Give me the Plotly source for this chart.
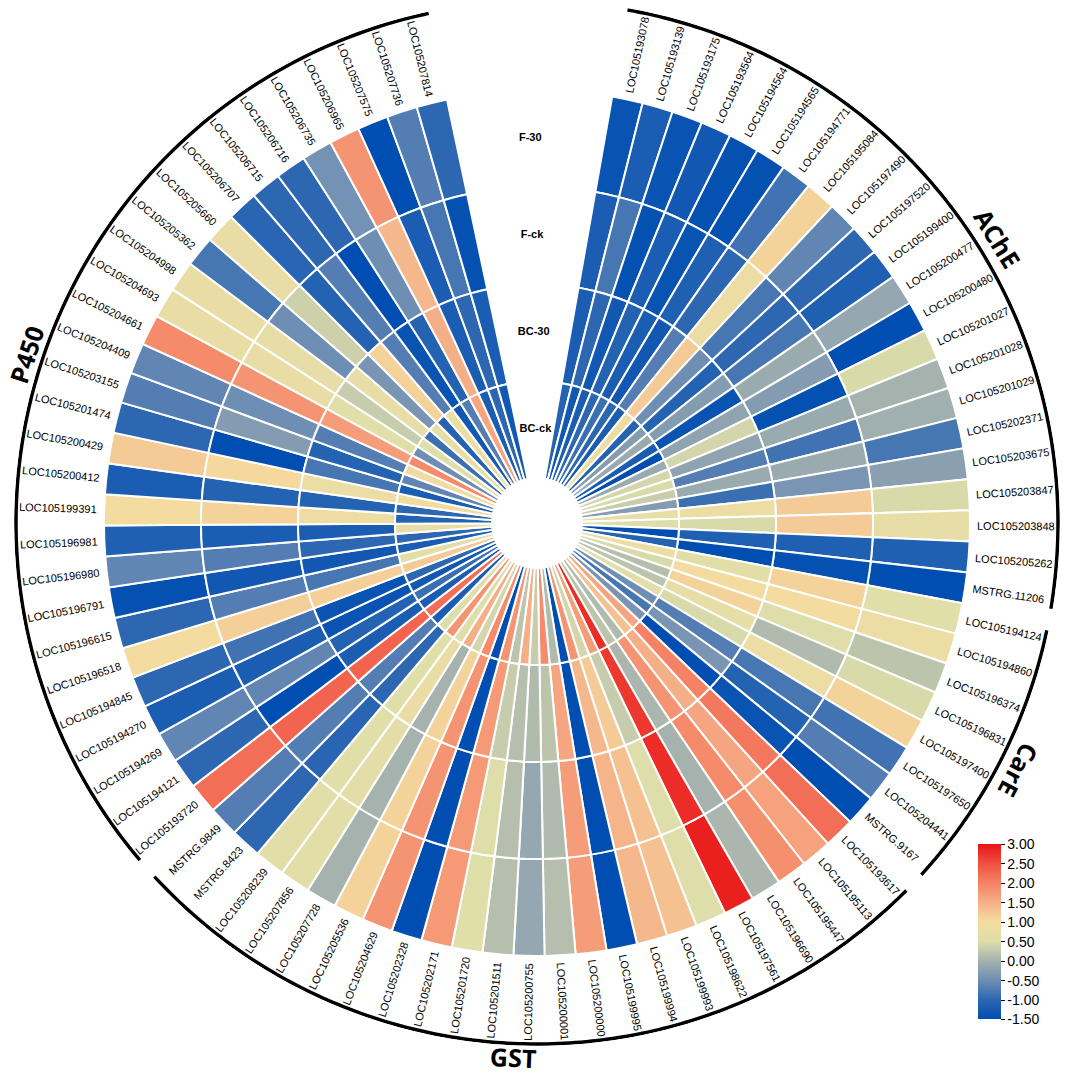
import numpy as np
import plotly.graph_objects as go

# genes, clockwise from the top gap
genes = ['LOC105193078', 'LOC105193139', 'LOC105193175', 'LOC105193564', 'LOC105194564',
         'LOC105194565', 'LOC105194771', 'LOC105195084', 'LOC105197490', 'LOC105197520',
         'LOC105199400', 'LOC105200477', 'LOC105200480', 'LOC105201027', 'LOC105201028',
         'LOC105201029', 'LOC105202371', 'LOC105203675', 'LOC105203847', 'LOC105203848',
         'LOC105205262', 'MSTRG.11206',
         'LOC105194124', 'LOC105194860', 'LOC105196374', 'LOC105196831', 'LOC105197400',
         'LOC105197650', 'LOC105204441', 'MSTRG.9167',
         'LOC105193617', 'LOC105195113', 'LOC105195447', 'LOC105196690', 'LOC105197561',
         'LOC105198622', 'LOC105199993', 'LOC105199994', 'LOC105199995', 'LOC105200000',
         'LOC105200001', 'LOC105200755', 'LOC105201511', 'LOC105201720', 'LOC105202171',
         'LOC105202328', 'LOC105204629', 'LOC105205536', 'LOC105207728', 'LOC105207856',
         'LOC105208239', 'MSTRG.8423', 'MSTRG.9849',
         'LOC105193720', 'LOC105194121', 'LOC105194269', 'LOC105194270', 'LOC105194845',
         'LOC105196518', 'LOC105196615', 'LOC105196791', 'LOC105196980', 'LOC105196981',
         'LOC105199391', 'LOC105200412', 'LOC105200429', 'LOC105201474', 'LOC105203155',
         'LOC105204409', 'LOC105204661', 'LOC105204693', 'LOC105204998', 'LOC105205362',
         'LOC105205660', 'LOC105206707', 'LOC105206715', 'LOC105206716', 'LOC105206735',
         'LOC105206965', 'LOC105207575', 'LOC105207736', 'LOC105207814']

group_names = ['AChE', 'CarE', 'GST', 'P450']
group_sizes = [22, 8, 23, 29]

ring_names = ['F-30', 'F-ck', 'BC-30', 'BC-ck']   # outer -> inner

f30 = [-1.4, -1.2, -1.4, -1.3, -1.45, -1.45, -0.85, 1.1, -0.6, -1.0,
       -1.15, -0.15, -1.5, 0.45, 0.0, -0.05, -0.8, -0.25, 0.45, 0.7,
       -1.15, -1.5,
       0.55, 0.8, 0.2, 0.45, 1.1, -0.85, -0.7, -1.5,
       2.2, 1.65, 1.85, 0.05, 2.9, 0.5, 1.3, 1.4, -1.5, 1.7,
       0.15, -0.15, 0.15, 0.55, 1.75, -1.5, 1.8, 1.1, 0.0, 0.6,
       0.6, -1.0, -0.7,
       2.2, -1.0, -0.6, -1.2, -1.0, 1.0, -1.0, -1.45, -0.6, -1.15,
       1.0, -1.2, 1.2, -1.0, -0.7, -0.6, 1.9, 0.75, 0.75, -0.8,
       0.75, -1.05, -1.0, -1.0, -0.45, 1.8, -1.5, -0.7, -1.0]

fck = [-1.2, -0.8, -1.45, -1.2, -1.4, -1.15, -1.0, 0.8, -0.8, -1.0,
       -0.8, -0.1, -0.3, -1.45, -0.1, -0.85, -0.1, -0.4, 1.2, 1.2,
       -1.15, -1.45,
       1.1, 1.0, 0.5, 0.1, 0.8, -0.8, -1.1, -1.4,
       2.1, 1.6, 1.9, 0.0, 2.8, 0.5, 1.3, 1.45, -1.5, 1.7,
       0.1, -0.15, 0.15, 0.5, 1.75, -1.5, 1.8, 1.1, 0.0, 0.65,
       0.55, -1.05, -0.7,
       2.3, -1.5, -0.6, -1.2, -0.85, 1.15, -0.7, -1.3, -0.7, -1.2,
       1.1, -1.1, 1.05, -1.5, -0.3, -0.5, 1.8, 0.75, 0.7, -0.5,
       0.35, -1.1, -0.7, -1.5, -0.5, 1.4, -1.2, -0.8, -1.45]

bc30 = [-1.2, -1.0, -1.3, -1.1, -1.2, -1.3, -0.7, 1.2, -0.5, -1.1,
        -0.3, -1.4, -0.2, 0.4, -0.2, -0.7, -0.1, -0.9, 0.8, 0.45,
        -1.15, -1.5,
        0.6, 1.0, 1.1, 0.7, 0.45, -0.7, -0.4, -1.5,
        2.0, 1.5, 1.8, 0.05, 2.7, 0.3, 1.2, 1.4, -1.5, 1.6,
        0.2, 0.1, 0.15, 0.3, 1.75, -1.5, 1.8, 1.1, 0.0, 0.75,
        0.55, -1.0, -0.7,
        2.3, -1.2, -1.1, -1.4, -1.4, 1.15, -0.8, -1.3, -1.0, -1.2,
        0.85, -1.1, 0.8, -0.8, -1.1, -0.7, 1.7, 0.6, 0.3, 0.7,
        -0.4, 1.1, -0.7, -1.4, -1.1, 1.5, -1.2, -1.0, -1.2]

bcck = [-1.1, -1.3, -1.2, -1.0, -0.9, -1.0, -1.2, 0.8, -1.1, -0.3,
        -0.1, -1.2, -1.5, -0.1, 0.4, 0.45, 0.3, -0.3, 0.7, 0.5,
        -1.5, -1.1,
        0.8, 0.45, 0.15, 0.2, 0.6, -0.5, -0.8, -0.4,
        1.6, 1.3, 0.1, 0.2, 2.8, 1.7, 0.4, 1.8, -1.5, 0.1,
        1.9, 0.3, 1.5, 0.2, 1.8, -1.5, 1.9, 0.4, 1.5, 0.5,
        1.8, 0.5, -1.2,
        2.2, -1.2, -0.9, -1.3, -1.0, 1.2, 0.6, -1.2, -1.0, 0.7,
        -1.1, -1.0, 0.9, -1.2, -0.6, 0.9, 1.9, -0.5, 0.5, -0.9,
        0.7, -1.1, 0.8, -1.3, -0.7, 1.6, -1.2, -1.0, -1.3]

ring_values = [f30, fck, bc30, bcck]

cbar_ticks = [-1.5, -1.0, -0.5, 0.0, 0.5, 1.0, 1.5, 2.0, 2.5, 3.0]

# page geometry (px)
W, H = 1065, 1078
CX, CY = 537, 523
R_MAX = 523
HOLE, RING_W = 45, 97

start_deg, end_deg = 10.0, 348.0
step = (end_deg - start_deg) / len(genes)
theta = [start_deg + step * (i + 0.5) for i in range(len(genes))]

colorscale = [
    [0.0, 'rgb(0,78,178)'],
    [0.111, 'rgb(45,103,178)'],
    [0.222, 'rgb(110,142,180)'],
    [0.333, 'rgb(165,178,174)'],
    [0.444, 'rgb(222,222,170)'],
    [0.556, 'rgb(244,220,160)'],
    [0.667, 'rgb(245,175,135)'],
    [0.778, 'rgb(245,130,100)'],
    [0.889, 'rgb(240,80,65)'],
    [1.0, 'rgb(232,20,22)'],
]

FONT = 'Liberation Sans, Arial, sans-serif'

fig = go.Figure()

for k, (name, vals) in enumerate(zip(ring_names, ring_values)):
    base = HOLE + RING_W * (3 - k)
    fig.add_trace(go.Barpolar(
        r=[RING_W] * len(genes), base=[base] * len(genes),
        theta=theta, width=[step] * len(genes),
        marker=dict(color=vals, colorscale=colorscale, cmin=-1.5, cmax=3.0,
                    line=dict(color='white', width=2),
                    showscale=(k == 0),
                    colorbar=dict(x=978 / W, xanchor='left', y=1 - 932 / H, yanchor='middle',
                                  len=175, lenmode='pixels', thickness=23,
                                  tickvals=cbar_ticks, ticktext=['%.2f' % v for v in cbar_ticks],
                                  ticks='outside', ticklen=4, tickcolor='black',
                                  outlinewidth=0, xpad=0, ypad=0,
                                  tickfont=dict(size=14, family=FONT, color='black'))),
        name=name, text=genes, hoverinfo='text+name', showlegend=False))

# ring names in the gap
fig.add_trace(go.Scatterpolar(
    r=[HOLE + RING_W * (3 - k) + RING_W / 2 for k in range(4)], theta=[359] * 4,
    mode='text', text=['<b>%s</b>' % n for n in ring_names],
    textfont=dict(size=11, family=FONT, color='black'), showlegend=False, hoverinfo='skip'))

# group arcs
ARC_R = 521
g0 = 0
for gname, gsize in zip(group_names, group_sizes):
    a0 = start_deg + step * g0
    a1 = start_deg + step * (g0 + gsize)
    pad0 = 0 if g0 == 0 else 1.2
    pad1 = 0 if g0 + gsize == len(genes) else 1.2
    th = np.linspace(a0 + pad0, a1 - pad1, 150)
    fig.add_trace(go.Scatterpolar(r=[ARC_R] * len(th), theta=th, mode='lines',
                                  line=dict(color='black', width=3.5),
                                  showlegend=False, hoverinfo='skip'))
    g0 += gsize


def to_paper(r, ang):
    a = np.radians(ang)
    return (CX + r * np.sin(a)) / W, 1 - (CY - r * np.cos(a)) / H


# rough Arial widths (em) to place labels just outside the ring
char_w = {'L': 0.556, 'O': 0.778, 'C': 0.722, 'M': 0.833, 'S': 0.667, 'T': 0.611,
          'R': 0.722, 'G': 0.778, '.': 0.278}

annotations = []
for g, ang in zip(genes, theta):
    tw = sum(char_w.get(c, 0.556) for c in g) * 11
    x, y = to_paper(440 + tw / 2, ang)
    rot = ang - 90 if ang < 180 else ang - 270
    annotations.append(dict(x=x, y=y, xref='paper', yref='paper', text=g, showarrow=False,
                            textangle=rot, xanchor='center', yanchor='middle',
                            font=dict(size=11, family=FONT, color='black')))

# group titles sit a little past the arcs; AChE is nudged down the arc as in the source
label_shift = {'AChE': 3.0, 'GST': 1.5}
label_r = {'GST': 535, 'P450': 538}
g0 = 0
for gname, gsize in zip(group_names, group_sizes):
    mid = start_deg + step * (g0 + gsize / 2) + label_shift.get(gname, 0)
    x, y = to_paper(label_r.get(gname, 542), mid)
    rot = mid - 180 if 150 < mid < 250 else (mid if mid <= 180 else mid - 360)
    annotations.append(dict(x=x, y=y, xref='paper', yref='paper', text='<b>%s</b>' % gname,
                            showarrow=False, textangle=rot, xanchor='center', yanchor='middle',
                            font=dict(size=25, family='Open Sans, ' + FONT, color='black')))
    g0 += gsize

fig.update_layout(
    width=W, height=H,
    margin=dict(l=0, r=0, t=0, b=0, autoexpand=False),
    paper_bgcolor='white', plot_bgcolor='white',
    polar=dict(
        domain=dict(x=[(CX - R_MAX) / W, (CX + R_MAX) / W],
                    y=[(H - CY - R_MAX) / H, (H - CY + R_MAX) / H]),
        bgcolor='white',
        radialaxis=dict(range=[0, R_MAX], visible=False),
        angularaxis=dict(rotation=90, direction='clockwise', visible=False),
    ),
    annotations=annotations,
)

# drop the browser's default 8px body margin so the figure fills the window
fig.write_html("out.html", config={'displayModeBar': False},
               post_script="document.body.style.margin='0px';")
